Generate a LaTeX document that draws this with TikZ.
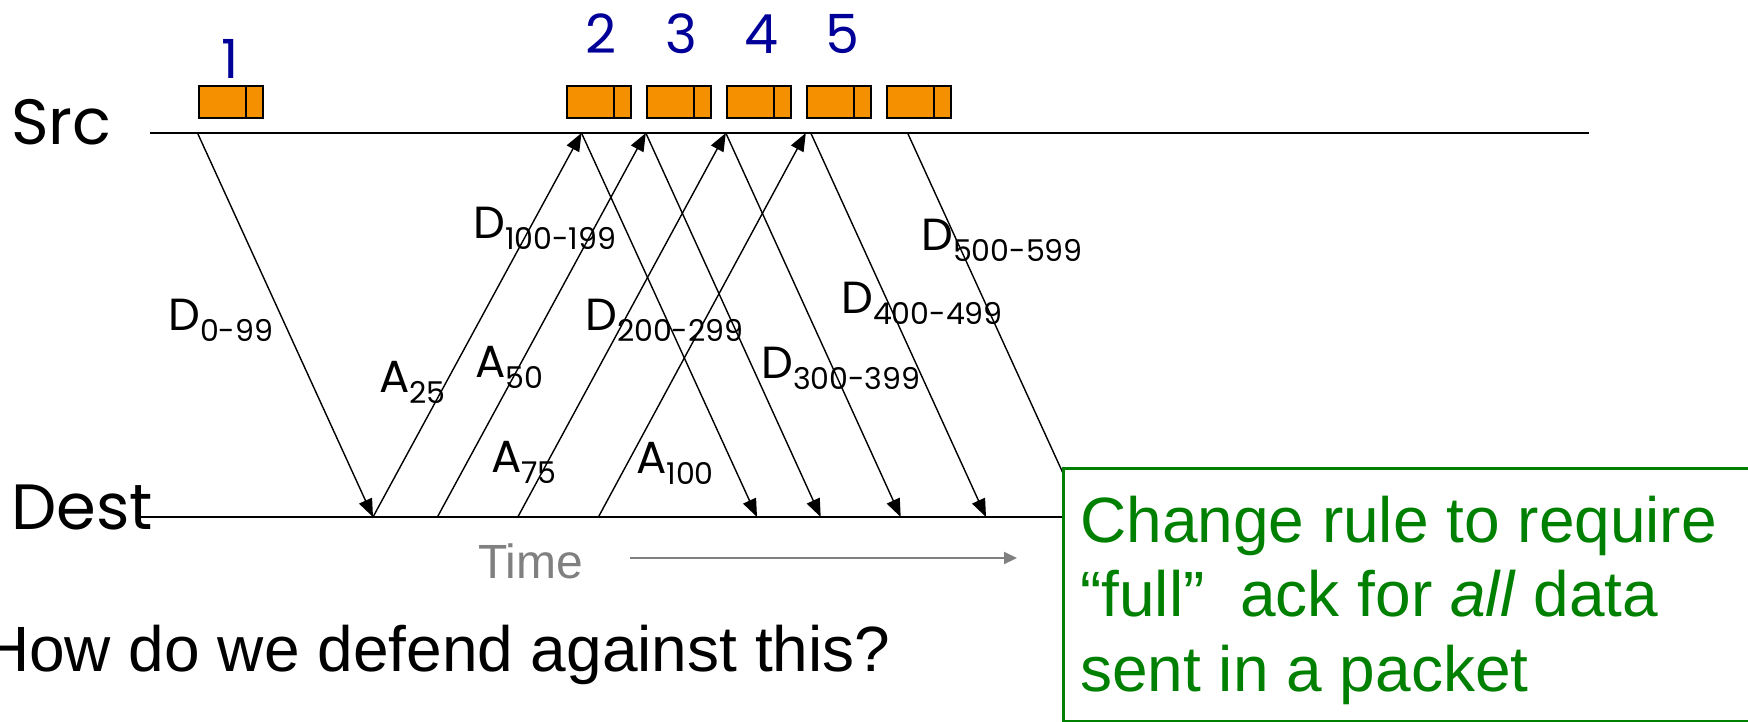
\documentclass[tikz,border=0pt]{standalone}
\usepackage{fontspec}
\setmainfont{Liberation Sans}
\newfontfamily\lblfont{Poppins}
\usetikzlibrary{arrows.meta}

\definecolor{pktorange}{RGB}{245,145,0}
\definecolor{seqblue}{RGB}{0,0,153}
\definecolor{notegreen}{RGB}{0,128,0}
\definecolor{timegray}{RGB}{128,128,128}

% segment label: big letter with a lowered range
\newcommand{\seglabel}[2]{{\lblfont\fontsize{45}{45}\selectfont #1}\raisebox{-11pt}{\lblfont\fontsize{30}{30}\selectfont #2}}

\tikzset{
  timeline/.style={line width=2pt},
  msg/.style={line width=1.4pt, -{Triangle[length=18pt,width=14pt]}},
  pkt/.style={draw, line width=2pt, fill=pktorange, minimum width=64pt,
              minimum height=32pt, inner sep=0pt, anchor=north west},
  lbl/.style={inner sep=0pt, anchor=base west},
  seqnum/.style={inner sep=0pt, anchor=base, text=seqblue,
                 font=\lblfont\fontsize{54}{54}\selectfont},
  hostname/.style={inner sep=0pt, anchor=base west,
                   font=\lblfont\fontsize{64}{64}\selectfont},
  notetext/.style={inner sep=0pt, anchor=base west, text=notegreen,
                   font=\fontsize{64}{64}\selectfont},
}

\begin{document}
\begin{tikzpicture}[x=1pt,y=-1pt]
\useasboundingbox (0,0) rectangle (1748,721);

% host names
\node[hostname] (src)  at (11,144) {Src};
\node[hostname] (dest) at (11,529) {Dest};

% time lines
\coordinate (srcL) at (150,133);
\coordinate (srcR) at (1589,133);
\coordinate (dstL) at (141,517);
\coordinate (dstR) at (1100,517);
\draw[timeline] (srcL) -- (srcR);
\draw[timeline] (dstL) -- (dstR);

% packets waiting at the source
\foreach \name/\x in {p1/197.5, p2/565.8, p3/645.8, p4/725.8, p5/805.8, p6/885.8}{
  \node[pkt] (\name) at (\x,85) {};
  \draw[line width=2pt] ([xshift=48pt]\name.north west) -- ([xshift=48pt]\name.south west);
}

% sequence numbers
\node[seqnum] (n1) at (230,78) {1};
\node[seqnum] (n2) at (601.5,53) {2};
\node[seqnum] (n3) at (681,53) {3};
\node[seqnum] (n4) at (761,53) {4};
\node[seqnum] (n5) at (842,53) {5};

% points on the source line
\coordinate (s1) at (197.5,133);
\coordinate (s2) at (581.5,133);
\coordinate (s3) at (645.8,133);
\coordinate (s4) at (725.8,133);
\coordinate (s5) at (805.8,133);
\coordinate (s6) at (810.8,133);
\coordinate (s7) at (907.6,133);

% points on the destination line
\coordinate (d1) at (373,517);
\coordinate (d2) at (437.4,517);
\coordinate (d3) at (517.8,517);
\coordinate (d4) at (598.4,517);
\coordinate (e1) at (757,517);
\coordinate (e2) at (820.7,517);
\coordinate (e3) at (900.7,517);
\coordinate (e4) at (986,517);
\coordinate (e5) at (1083,517);

% data segments
\draw[msg] (s1) -- (d1);
\draw[msg] (s2) -- (e1);
\draw[msg] (s3) -- (e2);
\draw[msg] (s4) -- (e3);
\draw[msg] (s6) -- (e4);
\draw[msg] (s7) -- (e5);

% acknowledgements
\draw[msg] (d1) -- (s2);
\draw[msg] (d2) -- (s3);
\draw[msg] (d3) -- (s4);
\draw[msg] (d4) -- (s5);

% segment labels
\node[lbl] (l0)   at (168,330)   {\seglabel{D}{0-99}};
\node[lbl] (l100) at (473,238)   {\seglabel{D}{100-199}};
\node[lbl] (l200) at (585,330)   {\seglabel{D}{200-299}};
\node[lbl] (l300) at (761,378)   {\seglabel{D}{300-399}};
\node[lbl] (l400) at (841,313)   {\seglabel{D}{400-499}};
\node[lbl] (l500) at (921,250)   {\seglabel{D}{500-599}};
\node[lbl] (a25)  at (379,392)   {\seglabel{A}{25}};
\node[lbl] (a50)  at (475,377)   {\seglabel{A}{50}};
\node[lbl] (a75)  at (491,472)   {\seglabel{A}{75}};
\node[lbl] (a100) at (636,473)   {\seglabel{A}{100}};

% time axis
\node[inner sep=0pt, anchor=base west, text=timegray,
      font=\fontsize{48}{48}\selectfont] (time) at (478,578) {Time};
\coordinate (tA) at (630,558);
\coordinate (tB) at (1017,558);
\draw[timegray, line width=2pt, -{Triangle[length=13pt,width=12pt]}] (tA) -- (tB);

% question
\node[inner sep=0pt, anchor=base west, font=\fontsize{64}{64}\selectfont]
  (question) at (-17,671) {How do we defend against this?};

% answer box
\node[draw=notegreen, line width=3pt, fill=white, anchor=north west,
      minimum width=720pt, minimum height=253pt, inner sep=0pt] (note) at (1061.5,467) {};
\node[notetext] (g1) at (1080,542.7) {Change rule to require};
\node[notetext] (g2) at (1080,616.7) {“full”\hspace{18pt} ack for \textit{all} data};
\node[notetext] (g3) at (1080,691.7) {sent in a packet};
\end{tikzpicture}
\end{document}
